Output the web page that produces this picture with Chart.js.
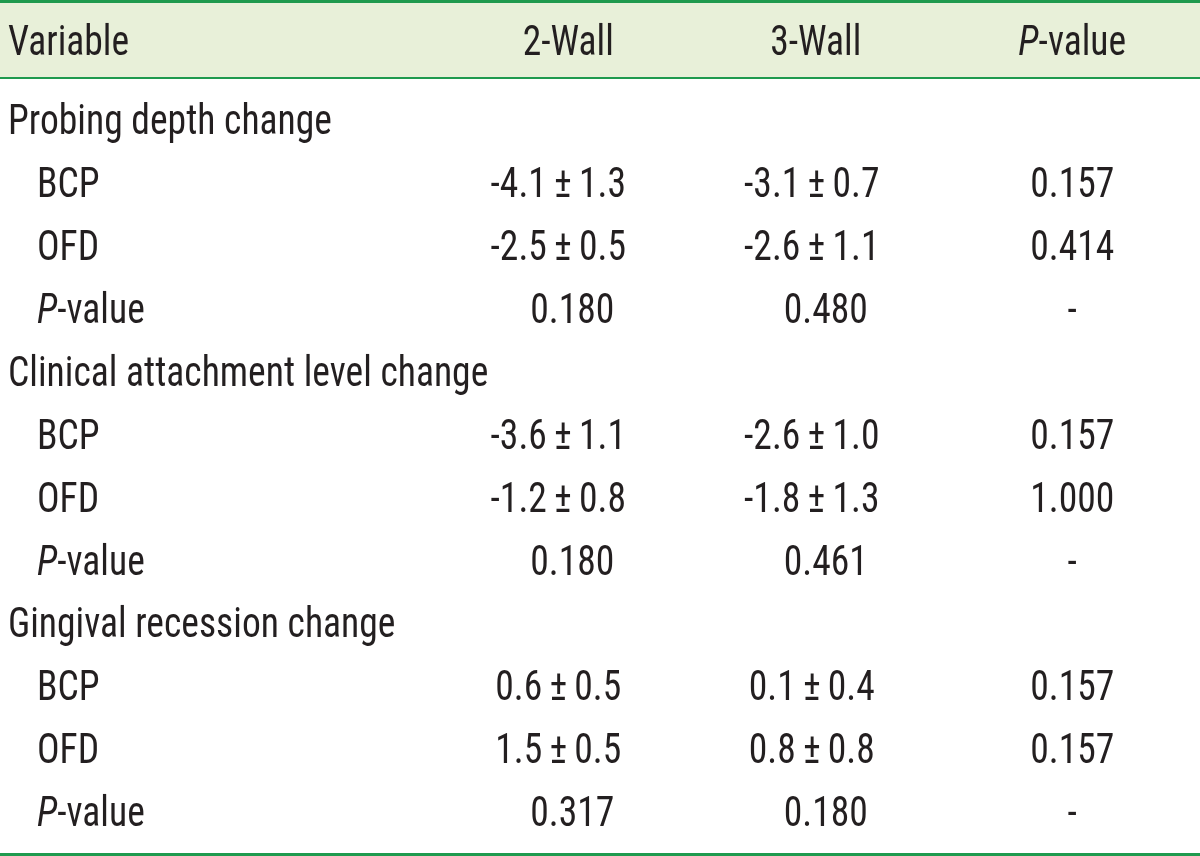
<!DOCTYPE html>
<html>
<head>
<meta charset="utf-8">
<script src="https://cdn.jsdelivr.net/npm/chart.js@4"></script>
<style>
  html, body { margin: 0; padding: 0; background: #fff; }
  #wrap { width: 1200px; height: 856px; position: relative; }
</style>
</head>
<body>
<div id="wrap"><canvas id="table-chart"></canvas></div>
<script>
const columns = ['Variable', '2-Wall', '3-Wall', 'P-value'];
const rowLabels = [
    'Probing depth change', 'BCP', 'OFD', 'P-value',
    'Clinical attachment level change', 'BCP', 'OFD', 'P-value',
    'Gingival recession change', 'BCP', 'OFD', 'P-value'
];
const groupRows = [true, false, false, false, true, false, false, false, true, false, false, false];
const wall2 = ['', '-4.1\u2009±\u20091.3', '-2.5\u2009±\u20090.5', '0.180', '', '-3.6\u2009±\u20091.1', '-1.2\u2009±\u20090.8', '0.180', '', '0.6\u2009±\u20090.5', '1.5\u2009±\u20090.5', '0.317'];
const wall3 = ['', '-3.1\u2009±\u20090.7', '-2.6\u2009±\u20091.1', '0.480', '', '-2.6\u2009±\u20091.0', '-1.8\u2009±\u20091.3', '0.461', '', '0.1\u2009±\u20090.4', '0.8\u2009±\u20090.8', '0.180'];
const pValues = ['', '0.157', '0.414', '-', '', '0.157', '1.000', '-', '', '0.157', '0.157', '-'];

const FONT = '"Roboto Condensed", Roboto, sans-serif';
const SIZE = 42;
const SQUEEZE = 0.895;
const TEXT = '#231f20';
const GREEN = '#1f9a4e';
const HEADER_BG = '#e8f0d9';

// draw a string (condensed), with italic "P" in front of "-value"
function drawCell(ctx, text, x, y, align){
    const parts = text.startsWith('P-value') ? [['italic ', 'P'], ['', text.slice(1)]] : [['', text]];
    let total = 0;
    parts.forEach(p => { ctx.font = p[0] + SIZE + 'px ' + FONT; total += ctx.measureText(p[1]).width; });
    total *= SQUEEZE;
    let cx = align === 'center' ? x - total / 2 : x;
    ctx.textAlign = 'left';
    ctx.textBaseline = 'alphabetic';
    parts.forEach(p => {
        ctx.font = p[0] + SIZE + 'px ' + FONT;
        ctx.save();
        ctx.translate(cx, y);
        ctx.scale(SQUEEZE, 1);
        ctx.fillText(p[1], 0, 0);
        ctx.restore();
        cx += ctx.measureText(p[1]).width * SQUEEZE;
    });
}

// mean ± SD entries sit a little left of the plain p-values in the wall columns
function nudge(text){
    return text.includes('±') ? -7 : 7;
}

const tablePlugin = {
    id: 'tableText',
    beforeDraw(chart){
        const ctx = chart.ctx;
        ctx.save();
        ctx.fillStyle = HEADER_BG;
        ctx.fillRect(0, 3, chart.width, 75);
        ctx.fillStyle = GREEN;
        ctx.fillRect(0, 0, chart.width, 3);
        ctx.fillRect(0, 77, chart.width, 2);
        ctx.fillRect(0, chart.height - 3, chart.width, 3);
        ctx.restore();
    },
    afterDraw(chart){
        const ctx = chart.ctx;
        const x = chart.scales.x, y = chart.scales.y;
        const capHalf = SIZE * 0.36;
        ctx.save();
        ctx.fillStyle = TEXT;
        // header row
        drawCell(ctx, columns[0], 8, 40 + capHalf, 'left');
        drawCell(ctx, columns[1], x.getPixelForValue(1) + 3, 40 + capHalf, 'center');
        drawCell(ctx, columns[2], x.getPixelForValue(2) - 3, 40 + capHalf, 'center');
        drawCell(ctx, columns[3], x.getPixelForValue(3), 40 + capHalf, 'center');
        // body rows
        for(let i = 0; i < rowLabels.length; i++){
            const by = y.getPixelForValue(i) + capHalf;
            drawCell(ctx, rowLabels[i], groupRows[i] ? 8 : 37, by, 'left');
            drawCell(ctx, wall2[i], x.getPixelForValue(1) + nudge(wall2[i]), by, 'center');
            drawCell(ctx, wall3[i], x.getPixelForValue(2) + nudge(wall3[i]), by, 'center');
            drawCell(ctx, pValues[i], x.getPixelForValue(3), by, 'center');
        }
        ctx.restore();
    }
};

new Chart(document.getElementById('table-chart'), {
    type: 'bar',
    data: {
        labels: columns,
        datasets: []
    },
    options: {
        responsive: true,
        maintainAspectRatio: false,
        animation: false,
        layout: { padding: { left: 185, right: 1, top: 87.65, bottom: 13.55 } },
        plugins: { legend: { display: false }, tooltip: { enabled: false } },
        scales: {
            x: { type: 'category', labels: columns, offset: true, display: false },
            y: { type: 'category', labels: rowLabels, offset: true, display: false }
        }
    },
    plugins: [tablePlugin]
});
</script>
</body>
</html>
